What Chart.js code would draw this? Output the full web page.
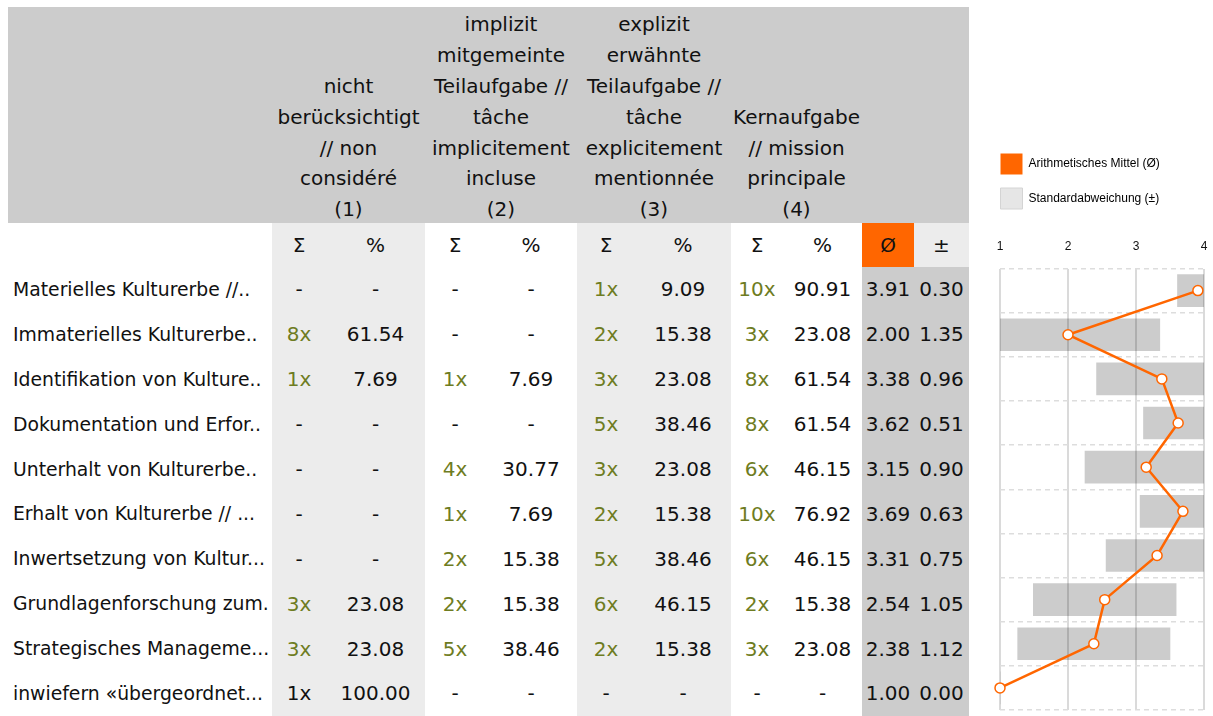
<!DOCTYPE html>
<html>
<head>
<meta charset="utf-8">
<script src="https://cdn.jsdelivr.net/npm/chart.js@4.4.0/dist/chart.umd.min.js"></script>
<style>
  body { margin: 0; width: 1213px; height: 716px; overflow: hidden; position: relative; background: #fff; font-family: "DejaVu Sans", sans-serif; color: #111; }
  #tbl { position: absolute; left: 8px; top: 7px; display: grid;
    grid-template-columns: 264px 54px 99px 60px 92px 58px 96px 52px 79px 52px 55px;
    grid-template-rows: 216px 44px repeat(10, 44.9px); font-size: 20px; }
  #tbl div { display: flex; align-items: center; justify-content: center; white-space: nowrap; }
  #tbl .head { background: #cccccc; align-items: flex-end; text-align: center; line-height: 30.8px; }
  #tbl .head span { display: block; position: relative; top: 2px; }
  #tbl .lab { justify-content: flex-start; padding-left: 5px; font-size: 18.8px; }
  #tbl .g { background: #ececec; }
  #tbl .dark { background: #cccccc; }
  #tbl .orange { background: #ff6600; }
  #tbl .cnt { color: #6e7c22; }
  #chartBox { position: absolute; left: 987px; top: 139.5px; width: 226px; height: 576.5px; }
</style>
</head>
<body>
<div id="tbl"></div>
<div id="chartBox"><canvas id="myChart"></canvas></div>
<script>
// row labels (truncated as in the source)
const categories = [
  "Materielles Kulturerbe //..",
  "Immaterielles Kulturerbe..",
  "Identifikation von Kulture..",
  "Dokumentation und Erfor..",
  "Unterhalt von Kulturerbe..",
  "Erhalt von Kulturerbe // ...",
  "Inwertsetzung von Kultur...",
  "Grundlagenforschung zum.",
  "Strategisches Manageme...",
  "inwiefern «übergeordnet..."
];
const groupHeaders = [
  "nicht<br>berücksichtigt<br>// non<br>considéré<br>(1)",
  "implizit<br>mitgemeinte<br>Teilaufgabe //<br>tâche<br>implicitement<br>incluse<br>(2)",
  "explizit<br>erwähnte<br>Teilaufgabe //<br>tâche<br>explicitement<br>mentionnée<br>(3)",
  "Kernaufgabe<br>// mission<br>principale<br>(4)"
];
// Σ and % per answer group
const count1 = [null, 8, 1, null, null, null, null, 3, 3, 1];
const pct1   = [null, 61.54, 7.69, null, null, null, null, 23.08, 23.08, 100.00];
const count2 = [null, null, 1, null, 4, 1, 2, 2, 5, null];
const pct2   = [null, null, 7.69, null, 30.77, 7.69, 15.38, 15.38, 38.46, null];
const count3 = [1, 2, 3, 5, 3, 2, 5, 6, 2, null];
const pct3   = [9.09, 15.38, 23.08, 38.46, 23.08, 15.38, 38.46, 46.15, 15.38, null];
const count4 = [10, 3, 8, 8, 6, 10, 6, 2, 3, null];
const pct4   = [90.91, 23.08, 61.54, 61.54, 46.15, 76.92, 46.15, 15.38, 23.08, null];
const meanValues = [3.91, 2.00, 3.38, 3.62, 3.15, 3.69, 3.31, 2.54, 2.38, 1.00];
const stdValues  = [0.30, 1.35, 0.96, 0.51, 0.90, 0.63, 0.75, 1.05, 1.12, 0.00];
const xTicks = [1, 2, 3, 4];

// ---- table ----
const tbl = document.getElementById("tbl");
function cell(html, cls) {
  const d = document.createElement("div");
  d.className = cls || "";
  d.innerHTML = html;
  tbl.appendChild(d);
  return d;
}
cell("", "head");
groupHeaders.forEach(h => { cell("<span>" + h + "</span>", "head").style.gridColumn = "span 2"; });
cell("", "head");
cell("", "head");

cell("", "");
const bgs = ["g", "", "g", ""];
bgs.forEach(bg => { cell("Σ", bg); cell("%", bg); });
cell("Ø", "orange");
cell("±", "g");

const counts = [count1, count2, count3, count4];
const pcts = [pct1, pct2, pct3, pct4];
categories.forEach((lab, i) => {
  cell(lab, "lab");
  counts.forEach((c, g) => {
    const v = c[i];
    const last = i === categories.length - 1;
    cell(v == null ? "-" : v + "x", bgs[g] + (v != null && !last ? " cnt" : ""));
    const p = pcts[g][i];
    cell(p == null ? "-" : p.toFixed(2), bgs[g]);
  });
  cell(meanValues[i].toFixed(2), "dark");
  cell(stdValues[i].toFixed(2), "dark");
});

// ---- chart ----
const lo = xTicks[0], hi = xTicks[xTicks.length - 1];
const spread = meanValues.map((m, i) => [Math.max(lo, m - stdValues[i]), Math.min(hi, m + stdValues[i])]);

let ctx = document.getElementById("myChart").getContext("2d");
let devChart = new Chart(ctx, {
  type: "bar",
  data: {
    labels: categories,
    datasets: [
      {
        type: "line",
        label: "Arithmetisches Mittel (Ø)",
        data: meanValues,
        borderColor: "#ff6600",
        borderWidth: 2.5,
        pointRadius: 5,
        pointBackgroundColor: "#ffffff",
        pointBorderColor: "#ff6600",
        pointBorderWidth: 1.5,
        clip: false,
        order: 0,
      },
      {
        label: "Standardabweichung (±)",
        data: spread,
        backgroundColor: "rgba(0,0,0,0.2)",
        barThickness: 32,
        order: 1,
      },
    ],
  },
  options: {
    indexAxis: "y",
    responsive: true,
    maintainAspectRatio: false,
    animation: false,
    layout: { padding: { left: 0, right: 9, top: 0, bottom: 0 } },
    scales: {
      x: {
        type: "linear",
        position: "top",
        min: lo,
        max: hi,
        // spacing under the labels comes from invisible tick marks
        ticks: { stepSize: 1, padding: 0, color: "#111", font: { family: "Liberation Sans", size: 12 } },
        grid: { color: "#dadada", lineWidth: 2, drawTicks: true, tickLength: 14.8, tickColor: "rgba(0,0,0,0)" },
        border: { display: false },
        afterFit(scale) { scale.height += 20.3; },
      },
      y: {
        ticks: { display: false },
        grid: { offset: true, color: "#dddddd", lineWidth: 1.5, drawTicks: false },
        border: { display: false, dash: [5, 4] },
        afterFit(scale) { scale.width = 13; },
      },
    },
    plugins: {
      tooltip: { enabled: false },
      legend: {
        position: "top",
        align: "start",
        labels: {
          boxWidth: 22,
          boxHeight: 21,
          padding: 13.5,
          color: "#333",
          font: { family: "Liberation Sans", size: 12 },
          generateLabels(chart) {
            return chart.data.datasets.map((d, i) => ({
              text: d.label,
              fillStyle: i === 0 ? "#ff6600" : "#e6e6e6",
              strokeStyle: i === 0 ? "#ff6600" : "#d4d4d4",
              lineWidth: i === 0 ? 0 : 1,
              datasetIndex: i,
              hidden: false,
            }));
          },
        },
      },
    },
  },
});
</script>
</body>
</html>
